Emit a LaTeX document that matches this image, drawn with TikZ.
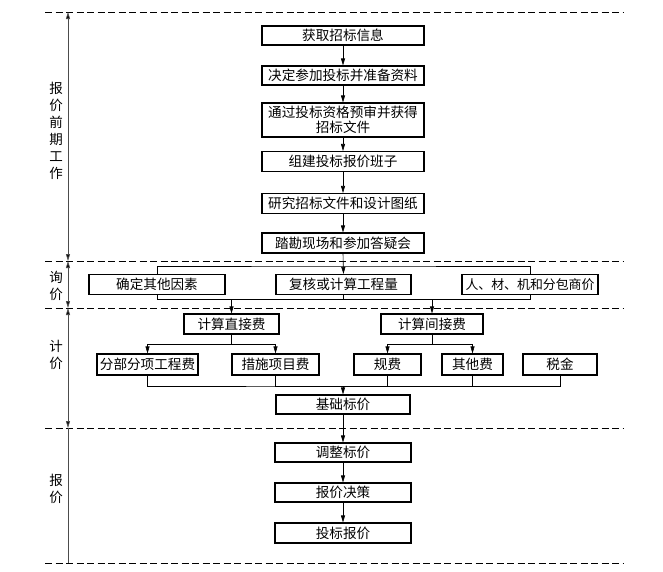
\documentclass[tikz,border=0pt]{standalone}
\usepackage{fontspec}
\setmainfont{Noto Sans CJK SC}
\usetikzlibrary{arrows.meta}
\begin{document}
\begin{tikzpicture}[x=1pt,y=-1pt,
  box/.style={draw,line width=1.1pt,inner sep=0pt,align=center,font=\fontsize{13.6}{15.5}\selectfont},
  arr/.style={-{Triangle[length=7pt,width=4pt]}},
  conn/.style={line width=0.6pt},
  sep/.style={line width=0.9pt,dash pattern=on 7pt off 3.5pt},
  axis/.style={line width=0.8pt,draw=black!70,{Triangle[length=7pt,width=4pt,fill=black]}-{Triangle[length=7pt,width=4pt,fill=black]}},
  axisplain/.style={line width=0.8pt,draw=black!70},
  side/.style={align=center,inner sep=0pt,font=\fontsize{13.5}{17}\selectfont}
]
\useasboundingbox (0,0) rectangle (663,571);

% separators
\foreach \n/\y in {1/12,2/261,3/308,4/428,5/563}{
  \coordinate (d\n l) at (45,\y);
  \coordinate (d\n r) at (623,\y);
  \draw[sep] (d\n l) -- (d\n r);
}

% left axis
\coordinate (a0) at (68,12);
\coordinate (a1) at (68,261);
\coordinate (a2) at (68,308);
\coordinate (a3) at (68,428);
\coordinate (a4) at (68,563);
\draw[axis] (a0) -- (a1);
\draw[axis] (a1) -- (a2);
\draw[axis] (a2) -- (a3);
\draw[axisplain] (a3) -- (a4);

% phase labels
\node[side] (l1) at (56,130.5) {报\\价\\前\\期\\工\\作};
\node[side] (l2) at (56,286) {询\\价};
\node[side] (l3) at (56,355) {计\\价};
\node[side] (l4) at (56,488.5) {报\\价};

% preparation column
\node[box,minimum width=162pt,minimum height=19pt] (b1) at (343,35.5) {获取招标信息};
\node[box,minimum width=162pt,minimum height=19pt] (b2) at (343,75.5) {决定参加投标并准备资料};
\node[box,minimum width=162pt,minimum height=34pt] (b3) at (343,120) {通过投标资格预审并获得\\招标文件};
\node[box,minimum width=162pt,minimum height=20pt] (b4) at (343,161.5) {组建投标报价班子};
\node[box,minimum width=162pt,minimum height=20pt] (b5) at (343,203.5) {研究招标文件和设计图纸};
\node[box,minimum width=162pt,minimum height=20pt] (b6) at (343,243) {踏勘现场和参加答疑会};

% inquiry row
\node[box,minimum width=136pt,minimum height=20pt] (iL) at (157,284.5) {确定其他因素};
\node[box,minimum width=135pt,minimum height=20pt] (iM) at (343.5,284.5) {复核或计算工程量};
\node[box,minimum width=136pt,minimum height=20pt,font=\fontsize{12.9}{15.5}\selectfont] (iR) at (530,284.5) {人、材、机和分包商价};

% pricing
\node[box,minimum width=95pt,minimum height=20pt] (zj) at (231.5,324) {计算直接费};
\node[box,minimum width=102pt,minimum height=20pt] (jj) at (432,324) {计算间接费};
\node[box,minimum width=101pt,minimum height=21pt] (fb) at (147.5,364.5) {分部分项工程费};
\node[box,minimum width=87pt,minimum height=21pt] (cs) at (275.5,364.5) {措施项目费};
\node[box,minimum width=67pt,minimum height=21pt] (gf) at (387.5,364.5) {规费};
\node[box,minimum width=61pt,minimum height=21pt] (qt) at (472.5,364.5) {其他费};
\node[box,minimum width=74pt,minimum height=21pt] (sj) at (560,364.5) {税金};
\node[box,minimum width=134pt,minimum height=19pt] (jc) at (343,404.5) {基础标价};

% quotation
\node[box,minimum width=136pt,minimum height=19pt] (tz) at (343,452.5) {调整标价};
\node[box,minimum width=136pt,minimum height=19pt] (jc2) at (343,492.5) {报价决策};
\node[box,minimum width=136pt,minimum height=20pt] (tb) at (343,533) {投标报价};

% connectors: preparation
\draw[conn,arr] (b1) -- (b2);
\draw[conn,arr] (b2) -- (b3);
\draw[conn,arr] (b3) -- (b4);
\draw[conn,arr] (b4) -- (b5);
\draw[conn,arr] (b5) -- (b6);
\draw[conn,arr] (b6.south) -- (iM.north);

% inquiry brackets
\coordinate (bt) at (343.5,266);
\coordinate (bb) at (343.5,299.5);
\draw[conn] (iL.north) |- (bt) -| (iR.north);
\draw[conn] (iL.south) |- (bb) -| (iR.south);
\draw[conn] (iM.south) -- (bb);
\coordinate (bz) at (231.5,299.5);
\coordinate (bj) at (432,299.5);
\draw[conn,arr] (bz) -- (zj.north);
\draw[conn,arr] (bj) -- (jj.north);

% split direct / indirect
\coordinate (sz) at (231.5,344);
\coordinate (sjj) at (432,344);
\draw[conn] (zj.south) -- (sz);
\draw[conn,arr] (sz) -| (fb.north);
\draw[conn,arr] (sz) -| (cs.north);
\draw[conn] (jj.south) -- (sjj);
\draw[conn,arr] (sjj) -| (gf.north);
\draw[conn,arr] (sjj) -| (qt.north);

% collect to base price
\coordinate (cl) at (343,386);
\draw[conn] (fb.south) |- (cl) -| (sj.south);
\draw[conn] (cs.south) |- (cl);
\draw[conn] (gf.south) |- (cl);
\draw[conn] (qt.south) |- (cl);
\draw[conn,arr] (cl) -- (jc.north);

% quotation chain
\draw[conn,arr] (jc) -- (tz);
\draw[conn,arr] (tz) -- (jc2);
\draw[conn,arr] (jc2) -- (tb);
\end{tikzpicture}
\end{document}
